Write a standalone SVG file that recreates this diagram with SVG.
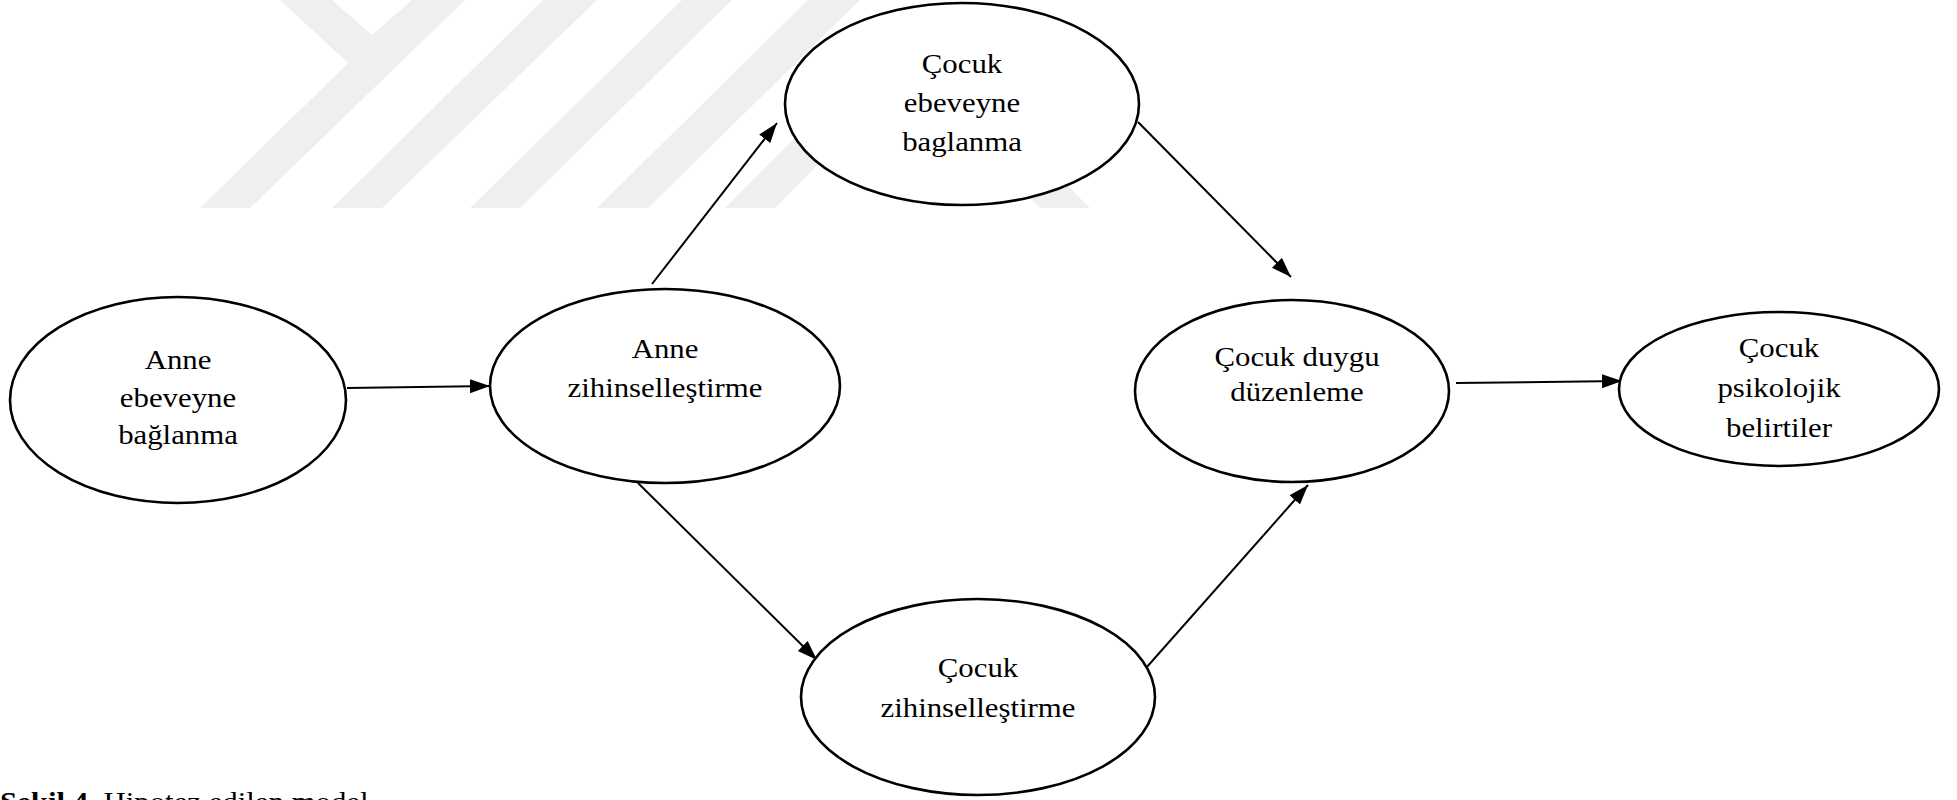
<svg xmlns="http://www.w3.org/2000/svg" width="1957" height="800" viewBox="0 0 1957 800">
<defs>
<style>
.wm{fill:#efefef;}
.node{fill:#ffffff;stroke:#000000;stroke-width:2.6;}
.lbl{font-family:"Liberation Serif","Times New Roman",serif;font-size:28px;fill:#000000;text-anchor:middle;}
.cap{font-family:"Liberation Serif","Times New Roman",serif;font-size:28px;fill:#000000;}
.edge{stroke:#000000;stroke-width:2;fill:none;marker-end:url(#arr);}
</style>
<marker id="arr" markerUnits="userSpaceOnUse" markerWidth="22" markerHeight="16" refX="20" refY="7" orient="auto">
<path d="M0,0 L20,7 L0,14 Z" fill="#000000"/>
</marker>
</defs>
<rect width="1957" height="800" fill="#ffffff"/>
<g id="watermark">
<polygon class="wm" points="280,0 332,0 372,35 412,0 465,0 250,208 200,208 348,63"/>
<polygon class="wm" points="332,208 382,208 597,0 543,0"/>
<polygon class="wm" points="470,208 520,208 732,0 682,0"/>
<polygon class="wm" points="597,208 648,208 860,0 808,0"/>
<polygon class="wm" points="725,208 775,208 907,75 1040,208 1090,208 907,25"/>
</g>
<g id="connectors">
<line class="edge" x1="347" y1="388" x2="490" y2="386"/>
<line class="edge" x1="652" y1="284" x2="777" y2="123"/>
<line class="edge" x1="1138" y1="122" x2="1291" y2="277"/>
<line class="edge" x1="638" y1="483" x2="817" y2="660"/>
<line class="edge" x1="1146" y1="668" x2="1308" y2="485"/>
<line class="edge" x1="1456" y1="383" x2="1622" y2="381"/>
</g>
<g id="node-anne-baglanma">
<ellipse class="node" cx="178" cy="400" rx="168" ry="103"/>
<text class="lbl" transform="translate(178,369) scale(1.1,1)">Anne</text>
<text class="lbl" transform="translate(178,406.5) scale(1.1,1)">ebeveyne</text>
<text class="lbl" transform="translate(178,444) scale(1.1,1)">bağlanma</text>
</g>
<g id="node-anne-zihin">
<ellipse class="node" cx="665" cy="386" rx="175" ry="97"/>
<text class="lbl" transform="translate(665,358) scale(1.1,1)">Anne</text>
<text class="lbl" transform="translate(665,397) scale(1.1,1)">zihinselleştirme</text>
</g>
<g id="node-cocuk-baglanma">
<ellipse class="node" cx="962" cy="104" rx="177" ry="101"/>
<text class="lbl" transform="translate(962,73) scale(1.1,1)">Çocuk</text>
<text class="lbl" transform="translate(962,112) scale(1.1,1)">ebeveyne</text>
<text class="lbl" transform="translate(962,151) scale(1.1,1)">baglanma</text>
</g>
<g id="node-cocuk-duygu">
<ellipse class="node" cx="1292" cy="391" rx="157" ry="91"/>
<text class="lbl" transform="translate(1297,366) scale(1.1,1)">Çocuk duygu</text>
<text class="lbl" transform="translate(1297,401) scale(1.1,1)">düzenleme</text>
</g>
<g id="node-cocuk-psikolojik">
<ellipse class="node" cx="1779" cy="389" rx="160" ry="77"/>
<text class="lbl" transform="translate(1779,357) scale(1.1,1)">Çocuk</text>
<text class="lbl" transform="translate(1779,397) scale(1.1,1)">psikolojik</text>
<text class="lbl" transform="translate(1779,437) scale(1.1,1)">belirtiler</text>
</g>
<g id="node-cocuk-zihin">
<ellipse class="node" cx="978" cy="697" rx="177" ry="98"/>
<text class="lbl" transform="translate(978,677) scale(1.1,1)">Çocuk</text>
<text class="lbl" transform="translate(978,717) scale(1.1,1)">zihinselleştirme</text>
</g>
<g id="caption">
<text class="cap" transform="translate(0,811) scale(1.1,1)"><tspan font-weight="bold">Şekil 4.</tspan> Hipotez edilen model</text>
</g>
</svg>
